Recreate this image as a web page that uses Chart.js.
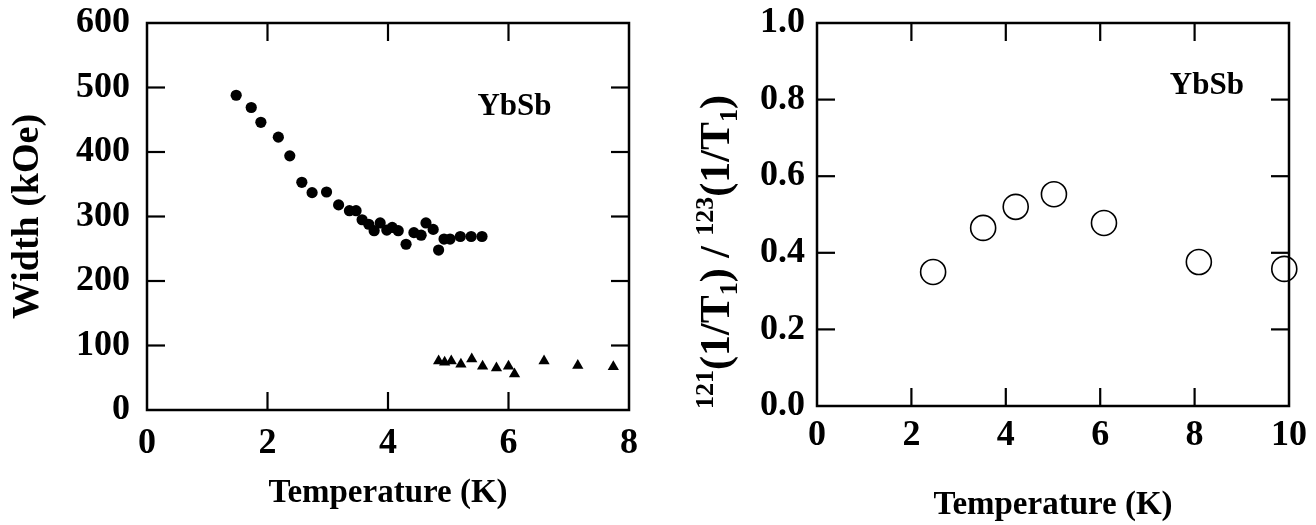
<!DOCTYPE html>
<html>
<head>
<meta charset="utf-8">
<script src="https://cdn.jsdelivr.net/npm/chart.js@4.4.1/dist/chart.umd.min.js"></script>
<style>
  html, body { margin: 0; padding: 0; background: #fff; }
  #wrap { position: relative; width: 1316px; height: 525px; }
  canvas { position: absolute; top: 0; }
  #left { left: 0; }
  #right { left: 660px; }
</style>
</head>
<body>
<div id="wrap">
  <canvas id="left" width="660" height="525"></canvas>
  <canvas id="right" width="656" height="525"></canvas>
</div>
<script>
// left panel: line widths vs temperature
const broadT = [1.48, 1.73, 1.89, 2.18, 2.37, 2.57, 2.74, 2.98, 3.18, 3.36, 3.47, 3.57, 3.68, 3.77, 3.87,
  3.98, 4.07, 4.17, 4.30, 4.43, 4.55, 4.63, 4.75, 4.84, 4.93, 5.03, 5.20, 5.38, 5.56];
const broadWidth = [488, 469, 446, 423, 394, 353, 337, 338, 318, 309, 309, 295, 288, 278, 290,
  279, 283, 278, 257, 275, 271, 290, 280, 248, 265, 265, 269, 269, 269];
const narrowT = [4.84, 4.94, 5.05, 5.21, 5.39, 5.57, 5.80, 6.00, 6.10, 6.59, 7.15, 7.74];
const narrowWidth = [76, 74, 76, 71, 79, 68, 65, 68, 56, 76, 69, 67];

// right panel: relaxation rate ratio
const ratioT = [2.46, 3.52, 4.21, 5.02, 6.08, 8.09, 9.9];
const ratio = [0.35, 0.465, 0.52, 0.553, 0.478, 0.376, 0.358];

// tick labels
const leftXTicks = [0, 2, 4, 6, 8];
const leftYTicks = [0, 100, 200, 300, 400, 500, 600];
const rightXTicks = [0, 2, 4, 6, 8, 10];
const rightYTicks = [0, 0.2, 0.4, 0.6, 0.8, 1.0];

const serif = "'Liberation Serif', 'DejaVu Serif', serif";
const tickFont = { family: serif, size: 36, weight: 'bold' };

const toPts = (xs, ys) => xs.map((x, i) => ({ x: x, y: ys[i] }));

// box frame with inward ticks on all four sides
const framePlugin = {
  id: 'frame',
  afterDraw(chart) {
    const { ctx, chartArea: a, scales: { x, y } } = chart;
    ctx.save();
    ctx.strokeStyle = '#000';
    ctx.lineWidth = 2.5;
    ctx.strokeRect(a.left, a.top, a.right - a.left, a.bottom - a.top);
    ctx.lineWidth = 2.2;
    const len = 18;
    const line = (x1, y1, x2, y2) => {
      ctx.beginPath(); ctx.moveTo(x1, y1); ctx.lineTo(x2, y2); ctx.stroke();
    };
    x.ticks.forEach(t => {
      const px = x.getPixelForValue(t.value);
      if (px <= a.left + 1 || px >= a.right - 1) return;
      line(px, a.bottom, px, a.bottom - len);
      line(px, a.top, px, a.top + len);
    });
    y.ticks.forEach(t => {
      const py = y.getPixelForValue(t.value);
      if (py <= a.top + 1 || py >= a.bottom - 1) return;
      line(a.left, py, a.left + len, py);
      line(a.right, py, a.right - len, py);
    });
    ctx.restore();
  }
};

// "YbSb" label placed through the scales
const labelPlugin = {
  id: 'sampleLabel',
  afterDraw(chart, args, opts) {
    const { ctx, scales: { x, y } } = chart;
    ctx.save();
    ctx.fillStyle = '#000';
    ctx.font = 'bold 31px ' + serif;
    ctx.textAlign = 'center';
    ctx.textBaseline = 'middle';
    ctx.fillText(opts.text, x.getPixelForValue(opts.x), y.getPixelForValue(opts.y));
    ctx.restore();
  }
};

// rotated y title with super- and subscripts
const ratioTitlePlugin = {
  id: 'ratioTitle',
  afterDraw(chart, args, opts) {
    if (!opts.show) return;
    const ctx = chart.ctx;
    const big = 'bold 42px ' + serif;
    const small = 'bold 26px ' + serif;
    const parts = [
      { t: '121', f: small, dy: -16 },
      { t: '(1/T', f: big, dy: 0 },
      { t: '1', f: small, dy: 8 },
      { t: ') / ', f: big, dy: 0 },
      { t: '123', f: small, dy: -16 },
      { t: '(1/T', f: big, dy: 0 },
      { t: '1', f: small, dy: 8 },
      { t: ')', f: big, dy: 0 }
    ];
    ctx.save();
    let total = 0;
    parts.forEach(p => { ctx.font = p.f; p.w = ctx.measureText(p.t).width; total += p.w; });
    ctx.translate(opts.cx, opts.cy);
    ctx.rotate(-Math.PI / 2);
    ctx.fillStyle = '#000';
    ctx.textBaseline = 'alphabetic';
    let xpos = -total / 2;
    parts.forEach(p => {
      ctx.font = p.f;
      ctx.fillText(p.t, xpos, 14 + p.dy);
      xpos += p.w;
    });
    ctx.restore();
  }
};

function makeAxis(ticks, min, max, extra) {
  return Object.assign({
    type: 'linear',
    min: min,
    max: max,
    afterBuildTicks: s => { s.ticks = ticks.map(v => ({ value: v })); },
    grid: { display: false },
    border: { display: false }
  }, extra);
}

// fix axis box sizes so the plot area sits where the reference has it
const fitX = h => s => { s.height = h; s.paddingLeft = 0; s.paddingRight = 0; };
const fitY = w => s => { s.width = w; s.paddingTop = 0; s.paddingBottom = 0; };

new Chart(document.getElementById('left'), {
  type: 'scatter',
  data: {
    datasets: [
      {
        data: toPts(broadT, broadWidth),
        pointStyle: 'circle',
        pointRadius: 5.6,
        backgroundColor: '#000',
        borderColor: '#000',
        borderWidth: 0,
        clip: false
      },
      {
        data: toPts(narrowT, narrowWidth),
        pointStyle: 'triangle',
        pointRadius: 6.5,
        backgroundColor: '#000',
        borderColor: '#000',
        borderWidth: 0,
        clip: false
      }
    ]
  },
  options: {
    responsive: false,
    animation: false,
    layout: { padding: { top: 23, right: 31, left: 0, bottom: 0 } },
    plugins: {
      legend: { display: false },
      tooltip: { enabled: false },
      sampleLabel: { text: 'YbSb', x: 6.1, y: 470 },
      ratioTitle: { show: false }
    },
    scales: {
      x: makeAxis(leftXTicks, 0, 8, {
        ticks: { font: tickFont, color: '#000', padding: 4, maxRotation: 0, autoSkip: false },
        title: { display: true, text: 'Temperature (K)', color: '#000',
          font: { family: serif, size: 33, weight: 'bold' }, padding: { top: 0, bottom: 12 } },
        afterFit: fitX(115)
      }),
      y: makeAxis(leftYTicks, 0, 600, {
        ticks: { font: tickFont, color: '#000', padding: 9, autoSkip: false },
        title: { display: true, text: 'Width (kOe)', color: '#000',
          font: { family: serif, size: 38, weight: 'bold' }, padding: { top: 5, bottom: 0 } },
        afterFit: fitY(147)
      })
    }
  },
  plugins: [framePlugin, labelPlugin, ratioTitlePlugin]
});

new Chart(document.getElementById('right'), {
  type: 'scatter',
  data: {
    datasets: [
      {
        data: toPts(ratioT, ratio),
        pointStyle: 'circle',
        pointRadius: 12.5,
        backgroundColor: '#fff',
        borderColor: '#000',
        borderWidth: 1.6,
        clip: false
      }
    ]
  },
  options: {
    responsive: false,
    animation: false,
    layout: { padding: { top: 23, right: 27, left: 0, bottom: 0 } },
    plugins: {
      legend: { display: false },
      tooltip: { enabled: false },
      sampleLabel: { text: 'YbSb', x: 8.26, y: 0.835 },
      ratioTitle: { show: true, cx: 55, cy: 252 }
    },
    scales: {
      x: makeAxis(rightXTicks, 0, 10, {
        ticks: { font: tickFont, color: '#000', padding: 0, maxRotation: 0, autoSkip: false },
        title: { display: true, text: 'Temperature (K)', color: '#000',
          font: { family: serif, size: 33, weight: 'bold' }, padding: { top: 0, bottom: 0 } },
        afterFit: fitX(119)
      }),
      y: makeAxis(rightYTicks, 0, 1, {
        ticks: { font: tickFont, color: '#000', padding: 4, autoSkip: false, callback: v => v.toFixed(1) },
        afterFit: fitY(157)
      })
    }
  },
  plugins: [framePlugin, labelPlugin, ratioTitlePlugin]
});
</script>
</body>
</html>
